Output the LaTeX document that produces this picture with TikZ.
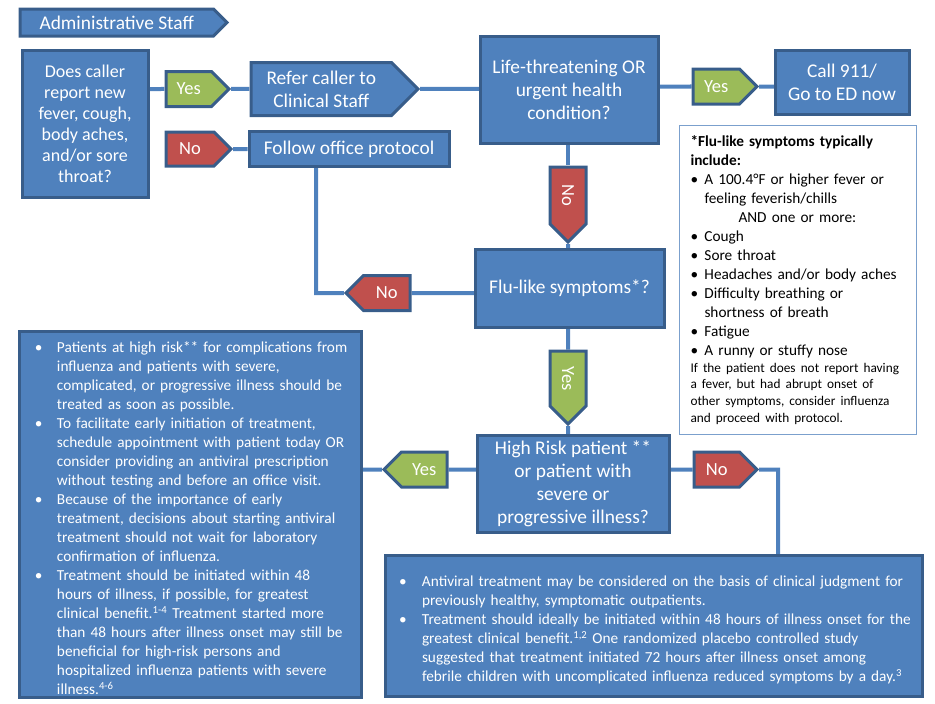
\documentclass[tikz,border=0pt]{standalone}
\usepackage{fontspec}
\setmainfont{Carlito}
\usepackage{graphicx}
\usetikzlibrary{shapes.symbols,backgrounds}
\definecolor{boxblue}{HTML}{4F81BD}
\definecolor{edgeblue}{HTML}{385D8A}
\definecolor{tagred}{HTML}{C0504D}
\definecolor{taggreen}{HTML}{9BBB59}
\definecolor{noteedge}{HTML}{7BA0CD}
\newcommand\nl{\hfil\break}
\newcommand\bul[2]{\par\hangindent=#1\hangafter=1\noindent\makebox[#1][l]{•}#2}
\begin{document}
\begin{tikzpicture}[x=1pt,y=-1pt,
  box/.style={draw=edgeblue, line width=3pt, fill=boxblue, text=white, inner sep=2pt, align=center, font=\fontsize{19.4}{23}\selectfont},
  tag/.style={signal, signal from=nowhere, signal pointer angle=90, draw=edgeblue, line width=3pt, text=white, inner sep=1pt, align=center, font=\fontsize{18.5}{23}\selectfont},
  bluetag/.style={tag, fill=boxblue, font=\fontsize{19.4}{23}\selectfont},
  yestag/.style={tag, fill=taggreen},
  notag/.style={tag, fill=tagred},
  textbox/.style={box, align=left, inner xsep=3pt, font=\fontsize{15.3}{19}\selectfont},
  link/.style={draw=boxblue, line width=4pt},
  notebox/.style={draw=noteedge, line width=1.5pt, fill=white, text=black, align=left, inner xsep=11pt, font=\fontsize{15.3}{19}\selectfont}
]
\useasboundingbox (0,0) rectangle (935,704);

\node[bluetag, signal to=east, minimum width=207, minimum height=27, anchor=west] (admin) at (18.5,22.5) {Administrative Staff};
\node[box, minimum width=126, minimum height=147, font=\fontsize{18}{21}\selectfont] (does) at (85,123.5) {Does caller\\report new\\fever, cough,\\body aches,\\and/or sore\\throat?};
\node[yestag, signal to=east, minimum width=63, minimum height=35, anchor=west] (yes1) at (164.5,89) {Yes};
\node[bluetag, signal to=east, minimum width=167, minimum height=53, anchor=west] (refer) at (249.5,89) {Refer caller to\\Clinical Staff};
\node[notag, signal to=east, minimum width=65, minimum height=34, anchor=west] (no1) at (164.5,149) {No};
\node[box, minimum width=200, minimum height=35] (follow) at (349,149) {Follow office protocol};
\node[box, minimum width=178, minimum height=107] (life) at (569,89.5) {Life-threatening OR\\urgent health\\condition?};
\node[yestag, signal to=east, minimum width=64, minimum height=35, anchor=west] (yes2) at (691.5,86.5) {Yes};
\node[box, minimum width=134, minimum height=64] (call) at (842,82) {Call 911/\\Go to ED now};
\node[notag, signal to=south, minimum width=36, minimum height=64, anchor=north] (no2) at (568,165.5) {\rotatebox{-90}{No}};
\node[box, minimum width=189, minimum height=78] (flu) at (569.5,288) {Flu-like symptoms*?};
\node[notag, signal to=west, minimum width=64, minimum height=35, anchor=east] (no3) at (411.5,293) {No};
\node[yestag, signal to=south, minimum width=36, minimum height=62, anchor=north] (yes3) at (568,349.5) {\rotatebox{-90}{Yes}};
\node[box, minimum width=192, minimum height=97] (high) at (573,483.5) {High Risk patient **\\or patient with\\severe or\\progressive illness?};
\node[yestag, signal to=west, minimum width=63, minimum height=35, anchor=east] (yes4) at (448.5,469.5) {Yes};
\node[notag, signal to=east, minimum width=63, minimum height=35, anchor=west] (no4) at (692.5,469.5) {No};

\node[textbox, minimum width=342, minimum height=363, text width=336] (left) at (190,514.5) {%
\leftskip=13pt
\bul{22pt}{Patients at high risk** for complications from\nl influenza and patients with severe,\nl complicated, or progressive illness should be\nl treated as soon as possible.}
\bul{22pt}{To facilitate early initiation of treatment,\nl schedule appointment with patient today OR\nl consider providing an antiviral prescription\nl without testing and before an office visit.}
\bul{22pt}{Because of the importance of early\nl treatment, decisions about starting antiviral\nl treatment should not wait for laboratory\nl confirmation of influenza.}
\bul{22pt}{Treatment should be initiated within 48\nl hours of illness, if possible, for greatest\nl clinical benefit.\textsuperscript{1-4} Treatment started more\nl than 48 hours after illness onset may still be\nl beneficial for high-risk persons and\nl hospitalized influenza patients with severe\nl illness.\textsuperscript{4-6}}\par};

\node[textbox, minimum width=537, minimum height=141, text width=531] (bottom) at (653.5,625.5) {%
\leftskip=11pt
\bul{23pt}{Antiviral treatment may be considered on the basis of clinical judgment for\nl previously healthy, symptomatic outpatients.}
\bul{23pt}{Treatment should ideally be initiated within 48 hours of illness onset for the\nl greatest clinical benefit.\textsuperscript{1,2} One randomized placebo controlled study\nl suggested that treatment initiated 72 hours after illness onset among\nl febrile children with uncomplicated influenza reduced symptoms by a day.\textsuperscript{3}}\par};

\node[notebox, minimum width=237, minimum height=309, text width=215] (note) at (798,280) {%
\textbf{*Flu-like symptoms typically}\\\textbf{include:}
\bul{14pt}{A 100.4°F or higher fever or\nl feeling feverish/chills}
\par\noindent\hspace*{48pt}AND one or more:
\bul{14pt}{Cough}
\bul{14pt}{Sore throat}
\bul{14pt}{Headaches and/or body aches}
\bul{14pt}{Difficulty breathing or\nl shortness of breath}
\bul{14pt}{Fatigue}
\bul{14pt}{A runny or stuffy nose}
\par\fontsize{13.3}{16.7}\selectfont\noindent If the patient does not report having\nl a fever, but had abrupt onset of\nl other symptoms, consider influenza\nl and proceed with protocol.\par};

\coordinate (bend1) at (316,293);
\coordinate (bend2) at (778,469.5);

\begin{scope}[on background layer]
\draw[link] (does.east |- yes1) -- (yes1);
\draw[link] (yes1) -- (refer);
\draw[link] (refer) -- (life.center |- refer);
\draw[link] (no1) -- (follow);
\draw[link] (follow.south -| bend1) -- (bend1) -- (no3);
\draw[link] (no3) -- (no3 -| flu);
\draw[link] (life.east |- yes2) -- (yes2);
\draw[link] (yes2) -- (call.center |- yes2);
\draw[link] (no2 |- life) -- (no2);
\draw[link] (no2) -- (no2 |- flu);
\draw[link] (yes3 |- flu) -- (yes3);
\draw[link] (yes3) -- (yes3 |- high);
\draw[link] (yes4 -| high) -- (yes4);
\draw[link] (yes4) -- (yes4 -| left);
\draw[link] (no4 -| high) -- (no4);
\draw[link] (no4) -- (bend2) -- (bend2 |- bottom);
\end{scope}
\end{tikzpicture}
\end{document}
